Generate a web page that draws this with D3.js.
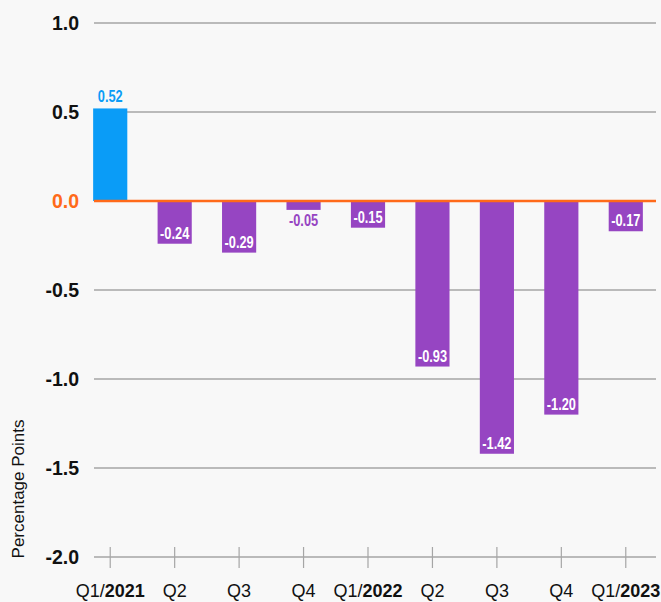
<!DOCTYPE html>
<html lang="en">
<head>
<meta charset="UTF-8">
<title>bar chart</title>
<script src="https://cdn.jsdelivr.net/npm/d3@7"></script>
<style>
    body{ margin:0; background:#f8f8f8; }
    svg{ display:block; background:#f8f8f8; }
    text{ font-family:"Liberation Sans",Arial,sans-serif; }
</style>
</head>
<body>
<svg id="chart" width="661" height="602"></svg>
<script>
// data
let quarters = ["Q1", "Q2", "Q3", "Q4", "Q1", "Q2", "Q3", "Q4", "Q1"]
let years = ["2021", "", "", "", "2022", "", "", "", "2023"]
let values = [0.52, -0.24, -0.29, -0.05, -0.15, -0.93, -1.42, -1.20, -0.17]
let yTicks = [1.0, 0.5, 0.0, -0.5, -1.0, -1.5, -2.0]

let svg = d3.select("#chart")
let idx = d3.range(values.length)
let fmt1 = d => d3.format(".1f")(d).replace("\u2212", "-")
let fmt2 = d => d3.format(".2f")(d).replace("\u2212", "-")

let x = d3.scaleBand()
    .domain(idx)
    .range([78, 658])
    .paddingInner(0.47)
    .paddingOuter(0.235)
let y = d3.scaleLinear()
    .domain([-2, 1])
    .range([557, 23])

let gridLeft = 94, gridRight = 656

// gridlines
svg.append("g")
    .selectAll("line")
    .data(yTicks.filter(d => d !== 0))
    .join("line")
    .attr("x1", gridLeft).attr("x2", gridRight)
    .attr("y1", d => y(d)).attr("y2", d => y(d))
    .attr("stroke", "#a6a6a6")
    .attr("stroke-width", 1.5)

// y labels
svg.append("g")
    .selectAll("text")
    .data(yTicks)
    .join("text")
    .attr("x", 79)
    .attr("y", d => y(d))
    .attr("dy", "0.36em")
    .attr("text-anchor", "end")
    .attr("font-size", 19.5)
    .attr("font-weight", "bold")
    .attr("fill", d => d === 0 ? "#ff6a1a" : "#111")
    .text(fmt1)

// x ticks on bottom line
svg.append("g")
    .selectAll("line")
    .data(idx)
    .join("line")
    .attr("x1", d => x(d) + x.bandwidth() / 2)
    .attr("x2", d => x(d) + x.bandwidth() / 2)
    .attr("y1", y(-2) - 10).attr("y2", y(-2) + 11)
    .attr("stroke", "#a6a6a6")
    .attr("stroke-width", 1.2)

// bars
svg.append("g")
    .selectAll("rect")
    .data(idx)
    .join("rect")
    .attr("x", d => x(d))
    .attr("width", x.bandwidth())
    .attr("y", d => y(Math.max(0, values[d])))
    .attr("height", d => Math.abs(y(values[d]) - y(0)))
    .attr("fill", d => values[d] >= 0 ? "#0a9cf7" : "#9645c2")

// zero line
svg.append("line")
    .attr("x1", gridLeft).attr("x2", gridRight)
    .attr("y1", y(0)).attr("y2", y(0))
    .attr("stroke", "#ff6a1a")
    .attr("stroke-width", 2.5)

// value labels (condensed look)
let small = d => Math.abs(y(values[d]) - y(0)) < 20
svg.append("g")
    .selectAll("text")
    .data(idx)
    .join("text")
    .attr("transform", d => {
        let v = values[d]
        let ty = v >= 0 ? y(v) - 6 : (small(d) ? y(v) + 16 : y(v) - 5)
        return `translate(${x(d) + x.bandwidth() / 2},${ty}) scale(0.8,1)`
    })
    .attr("text-anchor", "middle")
    .attr("font-size", 16)
    .attr("font-weight", "bold")
    .attr("fill", d => values[d] >= 0 ? "#0a9cf7" : (small(d) ? "#9645c2" : "#fff"))
    .text(d => fmt2(values[d]))

// x labels
let xl = svg.append("g")
    .selectAll("text")
    .data(idx)
    .join("text")
    .attr("x", d => x(d) + x.bandwidth() / 2)
    .attr("y", 597)
    .attr("text-anchor", "middle")
    .attr("font-size", 18)
    .attr("fill", "#111")
xl.append("tspan").text(d => quarters[d] + (years[d] ? "/" : ""))
xl.append("tspan").attr("font-weight", "bold").text(d => years[d])

// axis title
svg.append("text")
    .attr("transform", "translate(24,489) rotate(-90)")
    .attr("text-anchor", "middle")
    .attr("font-size", 17)
    .attr("fill", "#111")
    .text("Percentage Points")
</script>
</body>
</html>
